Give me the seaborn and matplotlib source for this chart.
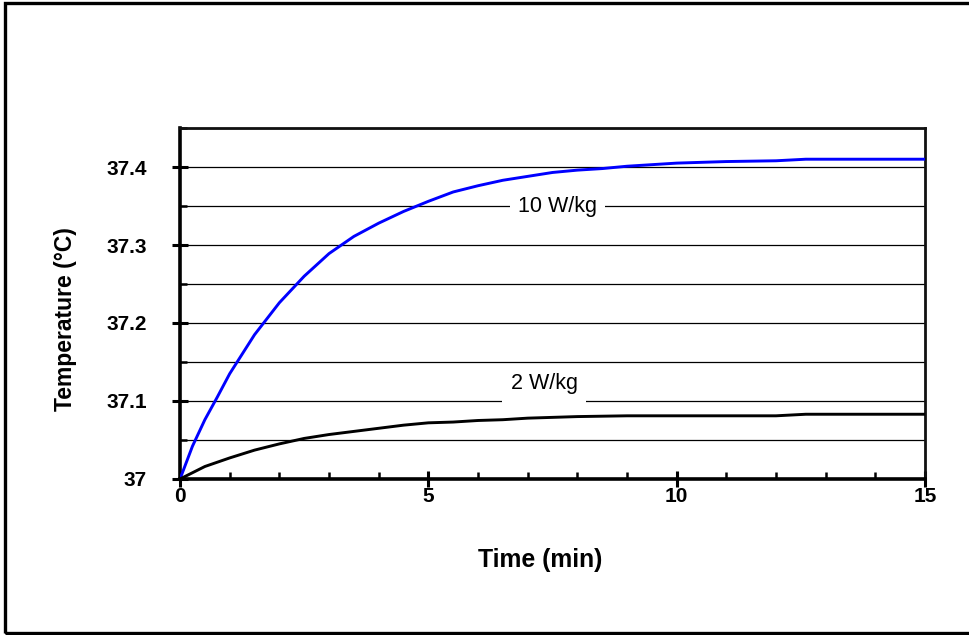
#!/usr/bin/env python3
"""Temperature rise vs time for two SAR levels."""

import matplotlib.pyplot as plt
import matplotlib.ticker as mticker
from matplotlib.patches import Rectangle
import pandas as pd
import seaborn as sns


# values
TIME_HIGH = [0, 0.25, 0.5, 0.75, 1, 1.5, 2, 2.5, 3, 3.5, 4, 4.5, 5, 5.5, 6,
             6.5, 7, 7.5, 8, 8.5, 9, 9.5, 10, 11, 12, 12.6, 13, 14, 15]
TEMP_HIGH = [37.0, 37.042, 37.076, 37.105, 37.135, 37.185, 37.226, 37.260,
             37.289, 37.311, 37.328, 37.343, 37.356, 37.368, 37.376, 37.383,
             37.388, 37.393, 37.396, 37.398, 37.401, 37.403, 37.405, 37.407,
             37.408, 37.410, 37.410, 37.410, 37.410]

TIME_LOW = [0, 0.5, 1, 1.5, 2, 2.5, 3, 3.5, 4, 4.5, 5, 5.5, 6, 6.5, 7, 7.5,
            8, 9, 10, 12, 12.6, 15]
TEMP_LOW = [37.0, 37.016, 37.027, 37.037, 37.045, 37.052, 37.057, 37.061,
            37.065, 37.069, 37.072, 37.073, 37.075, 37.076, 37.078, 37.079,
            37.080, 37.081, 37.081, 37.081, 37.083, 37.083]

SERIES = ["10 W/kg", "2 W/kg"]
LABEL_POS = {"10 W/kg": (7.6, 37.349), "2 W/kg": (7.33, 37.122)}


def main():
    sns.set_style("white")
    plt.rcParams["font.family"] = ["Liberation Sans", "DejaVu Sans"]
    plt.rcParams["text.color"] = "black"
    plt.rcParams["axes.labelcolor"] = "black"
    plt.rcParams["xtick.color"] = "black"
    plt.rcParams["ytick.color"] = "black"

    df = pd.concat([
        pd.DataFrame({"time": TIME_HIGH, "temp": TEMP_HIGH, "series": SERIES[0]}),
        pd.DataFrame({"time": TIME_LOW, "temp": TEMP_LOW, "series": SERIES[1]}),
    ])

    fig = plt.figure(figsize=(9.69, 6.35), dpi=100)
    ax = fig.add_axes([0.1858, 0.2457, 0.7688, 0.5527])

    sns.lineplot(
        data=df, x="time", y="temp", hue="series",
        palette={SERIES[0]: "#0000FF", SERIES[1]: "#000000"},
        linewidth=2.1, legend=False, ax=ax, zorder=5,
    )

    ax.set_xlim(0, 15)
    ax.set_ylim(37.0, 37.45)
    ax.xaxis.set_major_locator(mticker.MultipleLocator(5))
    ax.xaxis.set_minor_locator(mticker.MultipleLocator(1))
    ax.yaxis.set_major_locator(mticker.FixedLocator([37.0, 37.1, 37.2, 37.3, 37.4]))
    ax.yaxis.set_minor_locator(mticker.MultipleLocator(0.05))
    ax.yaxis.set_major_formatter(mticker.FormatStrFormatter("%g"))

    ax.grid(True, axis="y", which="both", color="black", linewidth=0.9)
    ax.set_axisbelow(True)

    ax.tick_params(which="both", bottom=True, left=True, color="black")
    ax.tick_params(which="major", direction="inout", length=12, width=2.2,
                   labelsize=15)
    ax.tick_params(axis="x", which="major", pad=0)
    ax.tick_params(axis="y", which="major", pad=18)
    ax.tick_params(which="minor", direction="in", length=5, width=1.8)
    for lab in ax.get_xticklabels() + ax.get_yticklabels():
        lab.set_fontweight("bold")

    for side in ["left", "bottom"]:
        ax.spines[side].set_linewidth(2.6)
        ax.spines[side].set_color("black")
    for side in ["top", "right"]:
        ax.spines[side].set_linewidth(2.0)
        ax.spines[side].set_color("#111111")

    ax.set_xlabel("Time (min)", fontsize=17.8, fontweight="bold")
    ax.set_ylabel("Temperature (°C)", fontsize=16.5, fontweight="bold")
    ax.xaxis.set_label_coords(0.484, -0.197)
    ax.yaxis.set_label_coords(-0.138, 0.455)

    for name in SERIES:
        x, y = LABEL_POS[name]
        ax.text(x, y, name, fontsize=15.5, ha="center", va="center", zorder=6,
                bbox=dict(facecolor="white", edgecolor="none", pad=6))

    fig.patches.append(Rectangle((0.005, 0.003), 1.0, 0.992, transform=fig.transFigure,
                                 fill=False, edgecolor="black", linewidth=2.4))

    fig.savefig("out.png", dpi=100)
    plt.close(fig)


if __name__ == "__main__":
    main()
